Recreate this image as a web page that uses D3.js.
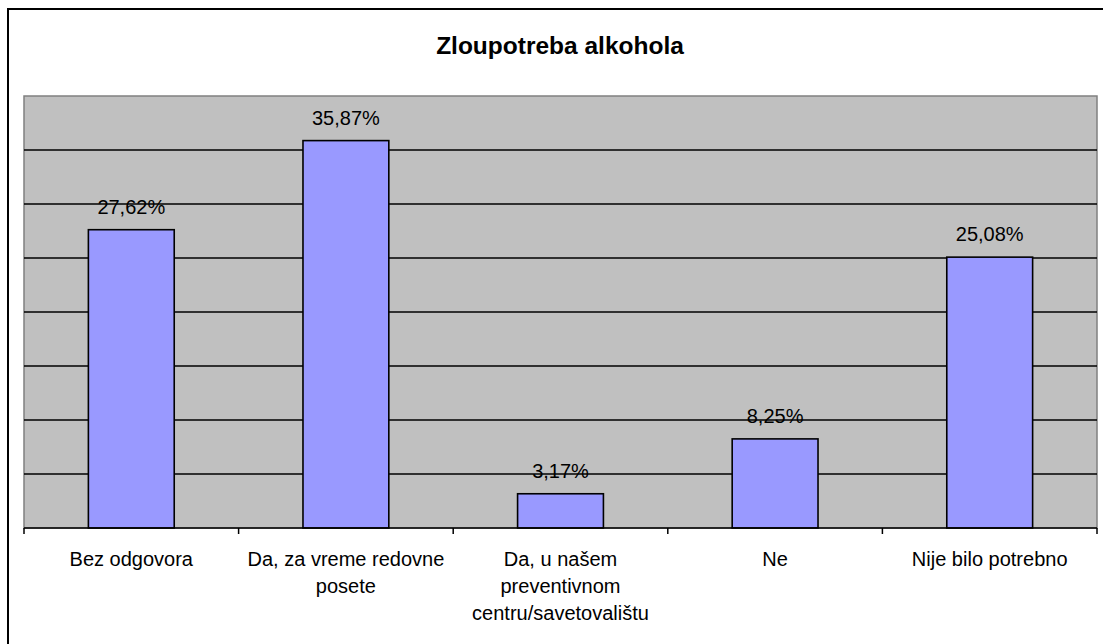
<!DOCTYPE html>
<html><head><meta charset="utf-8">
<script src="https://cdn.jsdelivr.net/npm/d3@7"></script>
<style>body{margin:0;background:#fff}svg{display:block}text{font-family:"Liberation Sans",Arial,sans-serif}</style>
</head><body><svg id="c" width="1103" height="644"></svg>
<script>
const title = "Zloupotreba alkohola";
const categories = ["Bez odgovora","Da, za vreme redovne posete","Da, u našem preventivnom centru/savetovalištu","Ne","Nije bilo potrebno"];
const labelLines = [["Bez odgovora"],["Da, za vreme redovne","posete"],["Da, u našem","preventivnom","centru/savetovalištu"],["Ne"],["Nije bilo potrebno"]];
const values = [27.62,35.87,3.17,8.25,25.08];
const valueLabels = ["27,62%","35,87%","3,17%","8,25%","25,08%"];
const yTicks = [0,5,10,15,20,25,30,35,40];

const svg = d3.select("#c");
const L=24, T=96, R=1097, B=528;
svg.append("rect").attr("x",8).attr("y",9).attr("width",1100).attr("height",640).attr("fill","#fff").attr("stroke","#000").attr("stroke-width",2);
svg.append("text").attr("x",560).attr("y",54).attr("text-anchor","middle").attr("font-size",24.5).attr("font-weight","bold").text(title);

const x = d3.scaleBand().domain(categories).range([L,R]).paddingInner(0.6).paddingOuter(0.3);
const xc = d3.scaleBand().domain(categories).range([L,R]);
const y = d3.scaleLinear().domain([0,40]).range([B,T]);

svg.append("rect").attr("x",L).attr("y",T).attr("width",R-L).attr("height",B-T).attr("fill","#C0C0C0").attr("stroke","#808080").attr("stroke-width",1.5);
svg.append("g").selectAll("line").data(yTicks.filter(d=>d>0&&d<40)).join("line")
  .attr("x1",L).attr("x2",R).attr("y1",d=>y(d)).attr("y2",d=>y(d)).attr("stroke","#000").attr("stroke-width",1.6);

svg.append("g").selectAll("rect").data(values).join("rect")
  .attr("x",(d,i)=>x(categories[i])).attr("width",x.bandwidth())
  .attr("y",d=>y(d)).attr("height",d=>B-y(d))
  .attr("fill","#9999FF").attr("stroke","#000").attr("stroke-width",1.6);

svg.append("g").selectAll("text").data(values).join("text")
  .attr("x",(d,i)=>x(categories[i])+x.bandwidth()/2).attr("y",d=>y(d)-16)
  .attr("text-anchor","middle").attr("font-size",20).attr("fill","#000")
  .text((d,i)=>valueLabels[i]);

// x axis
const ax = svg.append("g");
ax.append("line").attr("x1",L).attr("x2",R).attr("y1",B).attr("y2",B).attr("stroke","#000").attr("stroke-width",1.6);
const tickPos = categories.map(c=>xc(c)).concat([R]);
ax.selectAll("line.t").data(tickPos).join("line").attr("class","t")
  .attr("x1",d=>d).attr("x2",d=>d).attr("y1",B).attr("y2",B+6).attr("stroke","#000").attr("stroke-width",1.5);
labelLines.forEach((lines,i)=>{
  const t = ax.append("text").attr("x",xc(categories[i])+xc.bandwidth()/2).attr("y",566)
    .attr("text-anchor","middle").attr("font-size",20).attr("fill","#000");
  lines.forEach((ln,j)=>t.append("tspan").attr("x",xc(categories[i])+xc.bandwidth()/2).attr("dy",j?27:0).text(ln));
});
</script></body></html>
